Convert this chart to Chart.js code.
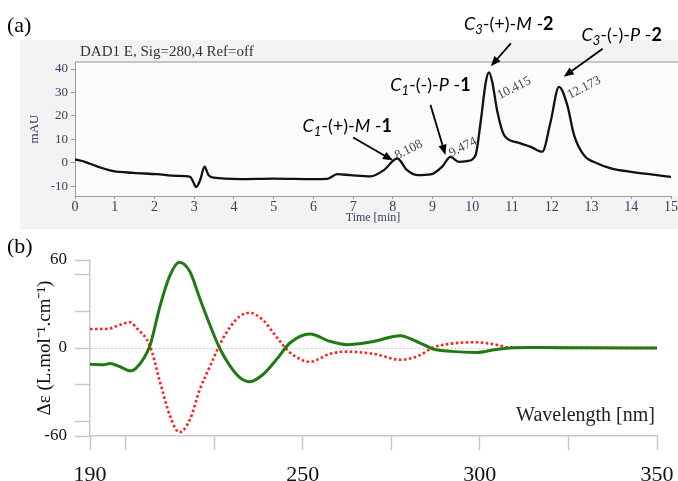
<!DOCTYPE html>
<html>
<head>
<meta charset="utf-8">
<script src="https://cdn.jsdelivr.net/npm/chart.js@4/dist/chart.umd.min.js"></script>
<style>
  body { margin: 0; background: #fff; width: 678px; height: 481px; position: relative; overflow: hidden; }
  canvas { position: absolute; left: 0; }
  .tag { position: absolute; left: 7px; font: 22px 'Liberation Serif', serif; line-height: 1; color: #000; z-index: 2; }
</style>
</head>
<body>
<canvas id="chrom" width="678" height="230" style="top:0"></canvas>
<canvas id="cd" width="678" height="251" style="top:230px"></canvas>
<div class="tag" style="top:14px">(a)</div>
<div class="tag" style="top:235px">(b)</div>
<script>
// (a) HPLC chromatogram, DAD 280 nm
const chromTime = [0, 0.25, 0.63, 0.97, 1.47, 2.06, 2.56, 2.9, 2.97, 3.05, 3.15, 3.26, 3.36, 3.49, 4.16, 5.0, 6.0, 6.35, 6.6, 6.93, 7.44, 7.77, 8.11, 8.36, 8.61, 8.95, 9.24, 9.45, 9.66, 9.87, 10.08, 10.21, 10.34, 10.42, 10.5, 10.63, 10.8, 11.13, 11.47, 11.76, 11.97, 12.18, 12.39, 12.56, 12.81, 13.15, 13.49, 14.0, 14.5, 15.0];
const chromSignal = [1.4, 0.4, -2.0, -3.6, -4.3, -4.9, -5.6, -6.0, -8.0, -10.3, -7.4, -1.7, -5.3, -6.4, -7.0, -6.8, -7.0, -6.9, -4.9, -5.3, -5.8, -3.2, 1.8, -3.2, -5.3, -5.0, -1.7, 2.5, 0.4, 0.7, 3.2, 17.5, 34.6, 38.6, 34.6, 21.8, 11.8, 8.7, 6.8, 4.7, 17.5, 32.4, 24.6, 11.8, 3.2, -0.3, -2.4, -3.9, -5.0, -6.0];

// peak annotations
const peakRT = [8.108, 9.474, 10.415, 12.173];
const peakSub = ['1', '1', '3', '3'];
const peakSign = ['+', '-', '+', '-'];
const peakHelix = ['M', 'P', 'M', 'P'];
const peakCompound = ['1', '1', '2', '2'];

// (b) CD spectra
const cdWavelength = [190, 193.8, 195.6, 198.5, 201.3, 203.2, 206.9, 209.8, 212.6, 215.2, 218.2, 221, 223.9, 226.7, 229.5, 232.3, 235.1, 238.9, 242.7, 246.4, 252.1, 257.7, 262.4, 270, 277.5, 283, 286.9, 292, 299.1, 304, 308.5, 315, 330, 350];
const cdGreen = [-11, -11.5, -10.5, -12.8, -15.6, -13.3, 1.6, 29, 49.7, 58.4, 52, 33.7, 15.3, -0.7, -12.2, -20.2, -23, -17.9, -7.6, 3.4, 9.6, 4.5, 2.3, 4.5, 8.4, 3.5, -0.7, -2.3, -3, -1.2, 0, 0.3, 0.2, 0];
const cdRed = [13, 13, 13.3, 15.8, 17.6, 13.5, 1.6, -23.6, -46.5, -57.5, -48.8, -28.2, -12.2, 2.7, 14.2, 21.7, 24, 18.8, 7.3, -3, -9.4, -4, -2.5, -4, -8, -5, 0.4, 3, 3.9, 2.5, 0.3, 0.2, 0, 0];
const cdTicksX = [190, 200, 225, 250, 275, 300, 325, 350];
const cdLabelsX = [190, 250, 300, 350];
const cdTicksY = [-60, -50, -25, 0, 25, 50, 60];
const cdLabelsY = [-60, 0, 60];

Chart.defaults.font.family = "'Liberation Serif', serif";

function toPoints(xs, ys) {
  return xs.map((x, i) => ({ x: x, y: ys[i] }));
}

function drawArrow(ctx, x1, y1, x2, y2) {
  const ang = Math.atan2(y2 - y1, x2 - x1);
  const head = 11;
  ctx.beginPath();
  ctx.moveTo(x1, y1);
  ctx.lineTo(x2 - head * 0.7 * Math.cos(ang), y2 - head * 0.7 * Math.sin(ang));
  ctx.stroke();
  ctx.beginPath();
  ctx.moveTo(x2, y2);
  ctx.lineTo(x2 - head * Math.cos(ang - 0.38), y2 - head * Math.sin(ang - 0.38));
  ctx.lineTo(x2 - head * Math.cos(ang + 0.38), y2 - head * Math.sin(ang + 0.38));
  ctx.closePath();
  ctx.fill();
}

// compound name like C1-(+)-M-1 with italic / subscript / bold parts
function drawName(ctx, i, cx, cy) {
  const size = 18;
  const parts = [
    { t: 'C', f: 'italic ' + size + 'px Lato', dy: 0 },
    { t: peakSub[i], f: 'italic ' + Math.round(size * 0.7) + 'px Lato', dy: 4 },
    { t: '-(' + peakSign[i] + ')-', f: size + 'px Lato', dy: 0 },
    { t: peakHelix[i], f: 'italic ' + size + 'px Lato', dy: 0 },
    { t: ' -', f: size + 'px Lato', dy: 0 },
    { t: peakCompound[i], f: 'bold ' + size + 'px Lato', dy: 0 }
  ];
  let w = 0;
  parts.forEach(p => { ctx.font = p.f; p.w = ctx.measureText(p.t).width; w += p.w; });
  let x = cx - w / 2;
  ctx.textBaseline = 'alphabetic';
  ctx.textAlign = 'left';
  parts.forEach(p => { ctx.font = p.f; ctx.fillText(p.t, x, cy + 6 + p.dy); x += p.w; });
}

// label placement relative to each peak apex (pixels)
const annLayout = [
  { tip: [-4, 2], tail: [-44, -21], name: [-50, -33], rt: [0, 1] },
  { tip: [-6, -2], tail: [-21, -52], name: [-21, -72], rt: [0, 0] },
  { tip: [2, -6], tail: [22, -29], name: [20, -48], rt: [11, 27] },
  { tip: [5, -10], tail: [44, -38], name: [63, -52], rt: [11, 12] }
];

const chromDecor = {
  id: 'chromDecor',
  beforeDraw(chart) {
    const { ctx, chartArea: a } = chart;
    ctx.save();
    ctx.fillStyle = '#f3f3f3';
    ctx.fillRect(20, 40, chart.width - 20, 189);
    ctx.fillStyle = '#fbfbfb';
    ctx.fillRect(a.left, a.top, chart.width - a.left, a.bottom - a.top);
    ctx.strokeStyle = '#c6c6c6';
    ctx.lineWidth = 2;
    ctx.beginPath();
    ctx.moveTo(a.left, a.top);
    ctx.lineTo(chart.width, a.top);
    ctx.stroke();
    ctx.fillStyle = '#333';
    ctx.font = "15px 'Liberation Serif'";
    ctx.textBaseline = 'middle';
    ctx.fillText('DAD1 E, Sig=280,4 Ref=off', a.left + 5, 52);
    ctx.restore();
  },
  afterDatasetsDraw(chart) {
    const { ctx, scales: { x, y } } = chart;
    ctx.save();
    peakRT.forEach((rt, i) => {
      let apex = -Infinity;
      chromTime.forEach((t, j) => { if (Math.abs(t - rt) <= 0.15) apex = Math.max(apex, chromSignal[j]); });
      const ax = x.getPixelForValue(rt);
      const ay = y.getPixelForValue(apex);
      const L = annLayout[i];
      ctx.strokeStyle = '#000';
      ctx.fillStyle = '#000';
      ctx.lineWidth = 1.8;
      drawArrow(ctx, ax + L.tail[0], ay + L.tail[1], ax + L.tip[0], ay + L.tip[1]);
      drawName(ctx, i, ax + L.name[0], ay + L.name[1]);
      ctx.save();
      ctx.translate(ax + L.rt[0], ay + L.rt[1]);
      ctx.rotate(-27 * Math.PI / 180);
      ctx.fillStyle = '#444';
      ctx.font = "13px 'Liberation Serif'";
      ctx.textAlign = 'left';
      ctx.textBaseline = 'alphabetic';
      ctx.fillText(rt.toFixed(3), 0, 0);
      ctx.restore();
    });
    ctx.restore();
  }
};

const axisBlue = '#33415c';

new Chart(document.getElementById('chrom'), {
  type: 'line',
  data: {
    datasets: [{
      data: toPoints(chromTime, chromSignal),
      borderColor: '#111',
      borderWidth: 2.3,
      pointRadius: 0,
      cubicInterpolationMode: 'monotone',
      fill: false
    }]
  },
  options: {
    responsive: false,
    animation: false,
    layout: { padding: { left: 20, top: 62, right: 7, bottom: 0 } },
    plugins: { legend: { display: false }, tooltip: { enabled: false } },
    scales: {
      x: {
        type: 'linear', min: 0, max: 15,
        afterFit: s => { s.height = 34; },
        ticks: { stepSize: 1, maxRotation: 0, padding: 0, color: axisBlue, font: { size: 14 } },
        grid: { drawOnChartArea: false, tickLength: 3, tickColor: '#9a9a9a' },
        border: { color: '#9a9a9a' },
        title: { display: true, text: 'Time [min]', color: axisBlue, font: { size: 12 }, padding: { top: 0, bottom: 5 } }
      },
      y: {
        min: -14.2, max: 43,
        afterFit: s => { s.width = 55; },
        ticks: { stepSize: 10, includeBounds: false, padding: 3, color: axisBlue, font: { size: 13 } },
        grid: { drawOnChartArea: false, tickLength: 4, tickColor: '#9a9a9a' },
        border: { color: '#9a9a9a' },
        title: { display: true, text: 'mAU', color: axisBlue, font: { size: 13 }, padding: { top: 7, bottom: 0 } }
      }
    }
  },
  plugins: [chromDecor]
});

const cdDecor = {
  id: 'cdDecor',
  afterDraw(chart) {
    const { ctx, chartArea: a } = chart;
    ctx.save();
    ctx.fillStyle = '#222';
    ctx.font = "20px 'Liberation Serif'";
    ctx.textAlign = 'right';
    ctx.textBaseline = 'middle';
    ctx.fillText('Wavelength [nm]', a.right - 2, a.bottom - 20);
    ctx.restore();
  }
};

new Chart(document.getElementById('cd'), {
  type: 'line',
  data: {
    datasets: [
      {
        data: toPoints(cdWavelength, cdGreen),
        borderColor: '#1f7a14',
        borderWidth: 3,
        pointRadius: 0,
        cubicInterpolationMode: 'monotone',
        fill: false
      },
      {
        data: toPoints(cdWavelength, cdRed),
        borderColor: '#ff1e1e',
        borderWidth: 2.6,
        borderDash: [2.5, 2.5],
        pointRadius: 0,
        cubicInterpolationMode: 'monotone',
        fill: false
      }
    ]
  },
  options: {
    responsive: false,
    animation: false,
    layout: { padding: { left: 0, top: 30, right: 21, bottom: 0 } },
    plugins: { legend: { display: false }, tooltip: { enabled: false } },
    scales: {
      x: {
        type: 'linear', min: 190, max: 350,
        afterFit: s => { s.height = 45; s.paddingLeft = 0; s.paddingRight = 21; },
        afterBuildTicks: s => { s.ticks = cdTicksX.map(v => ({ value: v })); },
        ticks: {
          autoSkip: false, maxRotation: 0, padding: 12, color: '#111', font: { size: 22 },
          callback: v => cdLabelsX.includes(v) ? String(v) : ''
        },
        grid: { drawOnChartArea: false, tickLength: 14, tickColor: '#c8c8c8', tickWidth: 1.5 },
        border: { color: '#c8c8c8', width: 1.5 }
      },
      y: {
        min: -60, max: 60,
        afterFit: s => { s.width = 90; },
        afterBuildTicks: s => { s.ticks = cdTicksY.map(v => ({ value: v })); },
        ticks: {
          autoSkip: false, padding: 8, color: '#111', font: { size: 17 },
          callback: v => cdLabelsY.includes(v) ? String(v) : ''
        },
        grid: {
          color: c => (c.tick && c.tick.value === 0) ? '#c8c8c8' : 'rgba(0,0,0,0)',
          tickColor: '#c8c8c8', tickLength: 15, tickWidth: 1.5
        },
        border: { color: '#c8c8c8', width: 1.5, dash: [2, 2] },
        title: { display: true, text: 'Δε (L.mol⁻¹.cm⁻¹)', color: '#111', font: { size: 19 }, padding: { top: 34, bottom: 0 } }
      }
    }
  },
  plugins: [cdDecor]
});
</script>
</body>
</html>
